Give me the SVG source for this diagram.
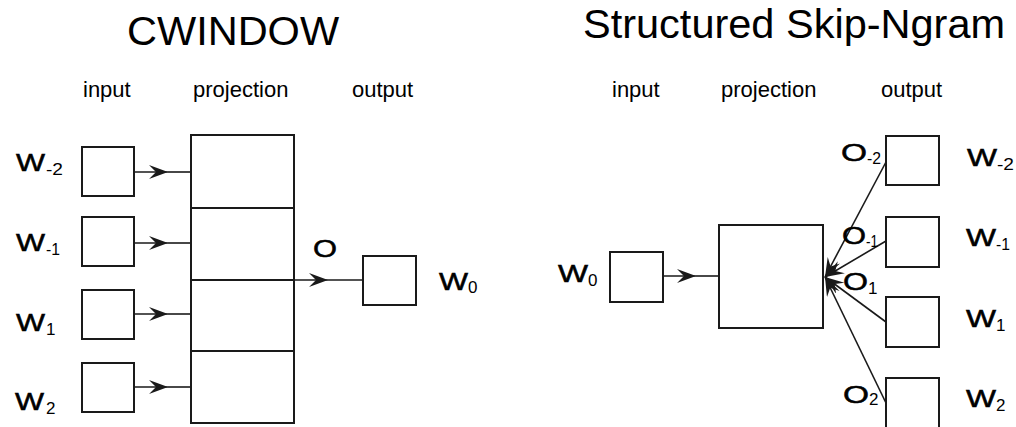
<svg xmlns="http://www.w3.org/2000/svg" width="1016" height="427" viewBox="0 0 1016 427">
  <style>
    .box { fill: #ffffff; stroke: #1a1a1a; stroke-width: 2; }
    .wire { fill: none; stroke: #1a1a1a; stroke-width: 1.6; }
    .title { font-family: "Liberation Sans", Arial, sans-serif; font-size: 41.5px; fill: #000; }
    .sub { font-family: "Liberation Sans", Arial, sans-serif; font-size: 22px; fill: #000; }
    .lbl { font-family: "Liberation Sans", Arial, sans-serif; font-size: 24px; fill: #000; stroke: #000; stroke-width: 0.5; }
    .idx { font-family: "Liberation Sans", Arial, sans-serif; font-size: 17px; fill: #000; }
  </style>
  <defs>
    <marker id="dart" markerUnits="userSpaceOnUse" markerWidth="22" markerHeight="16" refX="19" refY="7" orient="auto">
      <path d="M0,0 L19,7 L0,14 L7,7 z" fill="#1a1a1a"/>
    </marker>
  </defs>
  <rect width="1016" height="427" fill="#ffffff"/>

  <!-- Headings -->
  <text class="title" x="127" y="45">CWINDOW</text>
  <text class="title" x="583" y="38">Structured Skip-Ngram</text>
  <text class="sub" x="83" y="97">input</text>
  <text class="sub" x="193" y="97">projection</text>
  <text class="sub" x="352" y="97">output</text>
  <text class="sub" x="612" y="97">input</text>
  <text class="sub" x="721" y="97">projection</text>
  <text class="sub" x="881" y="97">output</text>

  <!-- CWINDOW: connectors -->
  <g id="cw-connectors">
    <path class="wire" d="M134,172 L168,172" marker-end="url(#dart)"/>
    <path class="wire" d="M168,172 L191,172"/>
    <path class="wire" d="M134,243 L168,243" marker-end="url(#dart)"/>
    <path class="wire" d="M168,243 L191,243"/>
    <path class="wire" d="M134,314 L168,314" marker-end="url(#dart)"/>
    <path class="wire" d="M168,314 L191,314"/>
    <path class="wire" d="M134,387 L168,387" marker-end="url(#dart)"/>
    <path class="wire" d="M168,387 L191,387"/>
    <path class="wire" d="M294,280 L328,280" marker-end="url(#dart)"/>
    <path class="wire" d="M328,280 L363,280"/>
  </g>

  <!-- CWINDOW: input nodes -->
  <g id="cw-in-m2">
    <rect class="box" x="82" y="147" width="52" height="49"/>
    <text class="lbl" x="16" y="171" textLength="29" lengthAdjust="spacingAndGlyphs">W</text>
    <text class="idx" x="46" y="175" textLength="17" lengthAdjust="spacingAndGlyphs">-2</text>
  </g>
  <g id="cw-in-m1">
    <rect class="box" x="82" y="217" width="52" height="49"/>
    <text class="lbl" x="16" y="251" textLength="29" lengthAdjust="spacingAndGlyphs">W</text>
    <text class="idx" x="46" y="255" textLength="14" lengthAdjust="spacingAndGlyphs">-1</text>
  </g>
  <g id="cw-in-p1">
    <rect class="box" x="82" y="290" width="52" height="49"/>
    <text class="lbl" x="16" y="331" textLength="29" lengthAdjust="spacingAndGlyphs">W</text>
    <text class="idx" x="46" y="335">1</text>
  </g>
  <g id="cw-in-p2">
    <rect class="box" x="82" y="363" width="52" height="49"/>
    <text class="lbl" x="15" y="410" textLength="29" lengthAdjust="spacingAndGlyphs">W</text>
    <text class="idx" x="46" y="414">2</text>
  </g>

  <!-- CWINDOW: stacked projection -->
  <g id="cw-projection">
    <rect class="box" x="191" y="135" width="103" height="288"/>
    <line class="box" x1="191" y1="208" x2="294" y2="208"/>
    <line class="box" x1="191" y1="280" x2="294" y2="280"/>
    <line class="box" x1="191" y1="351" x2="294" y2="351"/>
    <text class="lbl" x="313" y="257" textLength="24" lengthAdjust="spacingAndGlyphs">O</text>
  </g>

  <!-- CWINDOW: output node -->
  <g id="cw-out">
    <rect class="box" x="363" y="256" width="53" height="49"/>
    <text class="lbl" x="439" y="290" textLength="29" lengthAdjust="spacingAndGlyphs">W</text>
    <text class="idx" x="468" y="293">0</text>
  </g>

  <!-- Skip-Ngram: connectors -->
  <g id="sk-connectors">
    <path class="wire" d="M663,276 L696,276" marker-end="url(#dart)"/>
    <path class="wire" d="M696,276 L719,276"/>
    <path class="wire" d="M886,162 L825,277" marker-end="url(#dart)"/>
    <path class="wire" d="M886,241 L825,277" marker-end="url(#dart)"/>
    <path class="wire" d="M886,322 L825,277" marker-end="url(#dart)"/>
    <path class="wire" d="M886,403 L825,277" marker-end="url(#dart)"/>
  </g>

  <!-- Skip-Ngram: input node -->
  <g id="sk-in">
    <rect class="box" x="610" y="252" width="53" height="50"/>
    <text class="lbl" x="558" y="282" textLength="30" lengthAdjust="spacingAndGlyphs">W</text>
    <text class="idx" x="588" y="286">0</text>
  </g>

  <!-- Skip-Ngram: projection -->
  <g id="sk-projection">
    <rect class="box" x="719" y="225" width="104" height="103"/>
  </g>

  <!-- Skip-Ngram: output nodes -->
  <g id="sk-out-m2">
    <rect class="box" x="886" y="136" width="53" height="49"/>
    <text class="lbl" x="841" y="161" textLength="26" lengthAdjust="spacingAndGlyphs">O</text>
    <text class="idx" x="867" y="164" textLength="14" lengthAdjust="spacingAndGlyphs">-2</text>
    <text class="lbl" x="967" y="166" textLength="30" lengthAdjust="spacingAndGlyphs">W</text>
    <text class="idx" x="997" y="170" textLength="17" lengthAdjust="spacingAndGlyphs">-2</text>
  </g>
  <g id="sk-out-m1">
    <rect class="box" x="886" y="217" width="53" height="50"/>
    <text class="lbl" x="842" y="244" textLength="24" lengthAdjust="spacingAndGlyphs">O</text>
    <text class="idx" x="866" y="247" textLength="12" lengthAdjust="spacingAndGlyphs">-1</text>
    <text class="lbl" x="966" y="246" textLength="30" lengthAdjust="spacingAndGlyphs">W</text>
    <text class="idx" x="996" y="250" textLength="14" lengthAdjust="spacingAndGlyphs">-1</text>
  </g>
  <g id="sk-out-p1">
    <rect class="box" x="886" y="297" width="53" height="50"/>
    <text class="lbl" x="843" y="290" textLength="25" lengthAdjust="spacingAndGlyphs">O</text>
    <text class="idx" x="868" y="294">1</text>
    <text class="lbl" x="966" y="327" textLength="30" lengthAdjust="spacingAndGlyphs">W</text>
    <text class="idx" x="996" y="331">1</text>
  </g>
  <g id="sk-out-p2">
    <rect class="box" x="886" y="378" width="53" height="50"/>
    <text class="lbl" x="843" y="403" textLength="26" lengthAdjust="spacingAndGlyphs">O</text>
    <text class="idx" x="869" y="405">2</text>
    <text class="lbl" x="966" y="407" textLength="30" lengthAdjust="spacingAndGlyphs">W</text>
    <text class="idx" x="996" y="411">2</text>
  </g>
</svg>
